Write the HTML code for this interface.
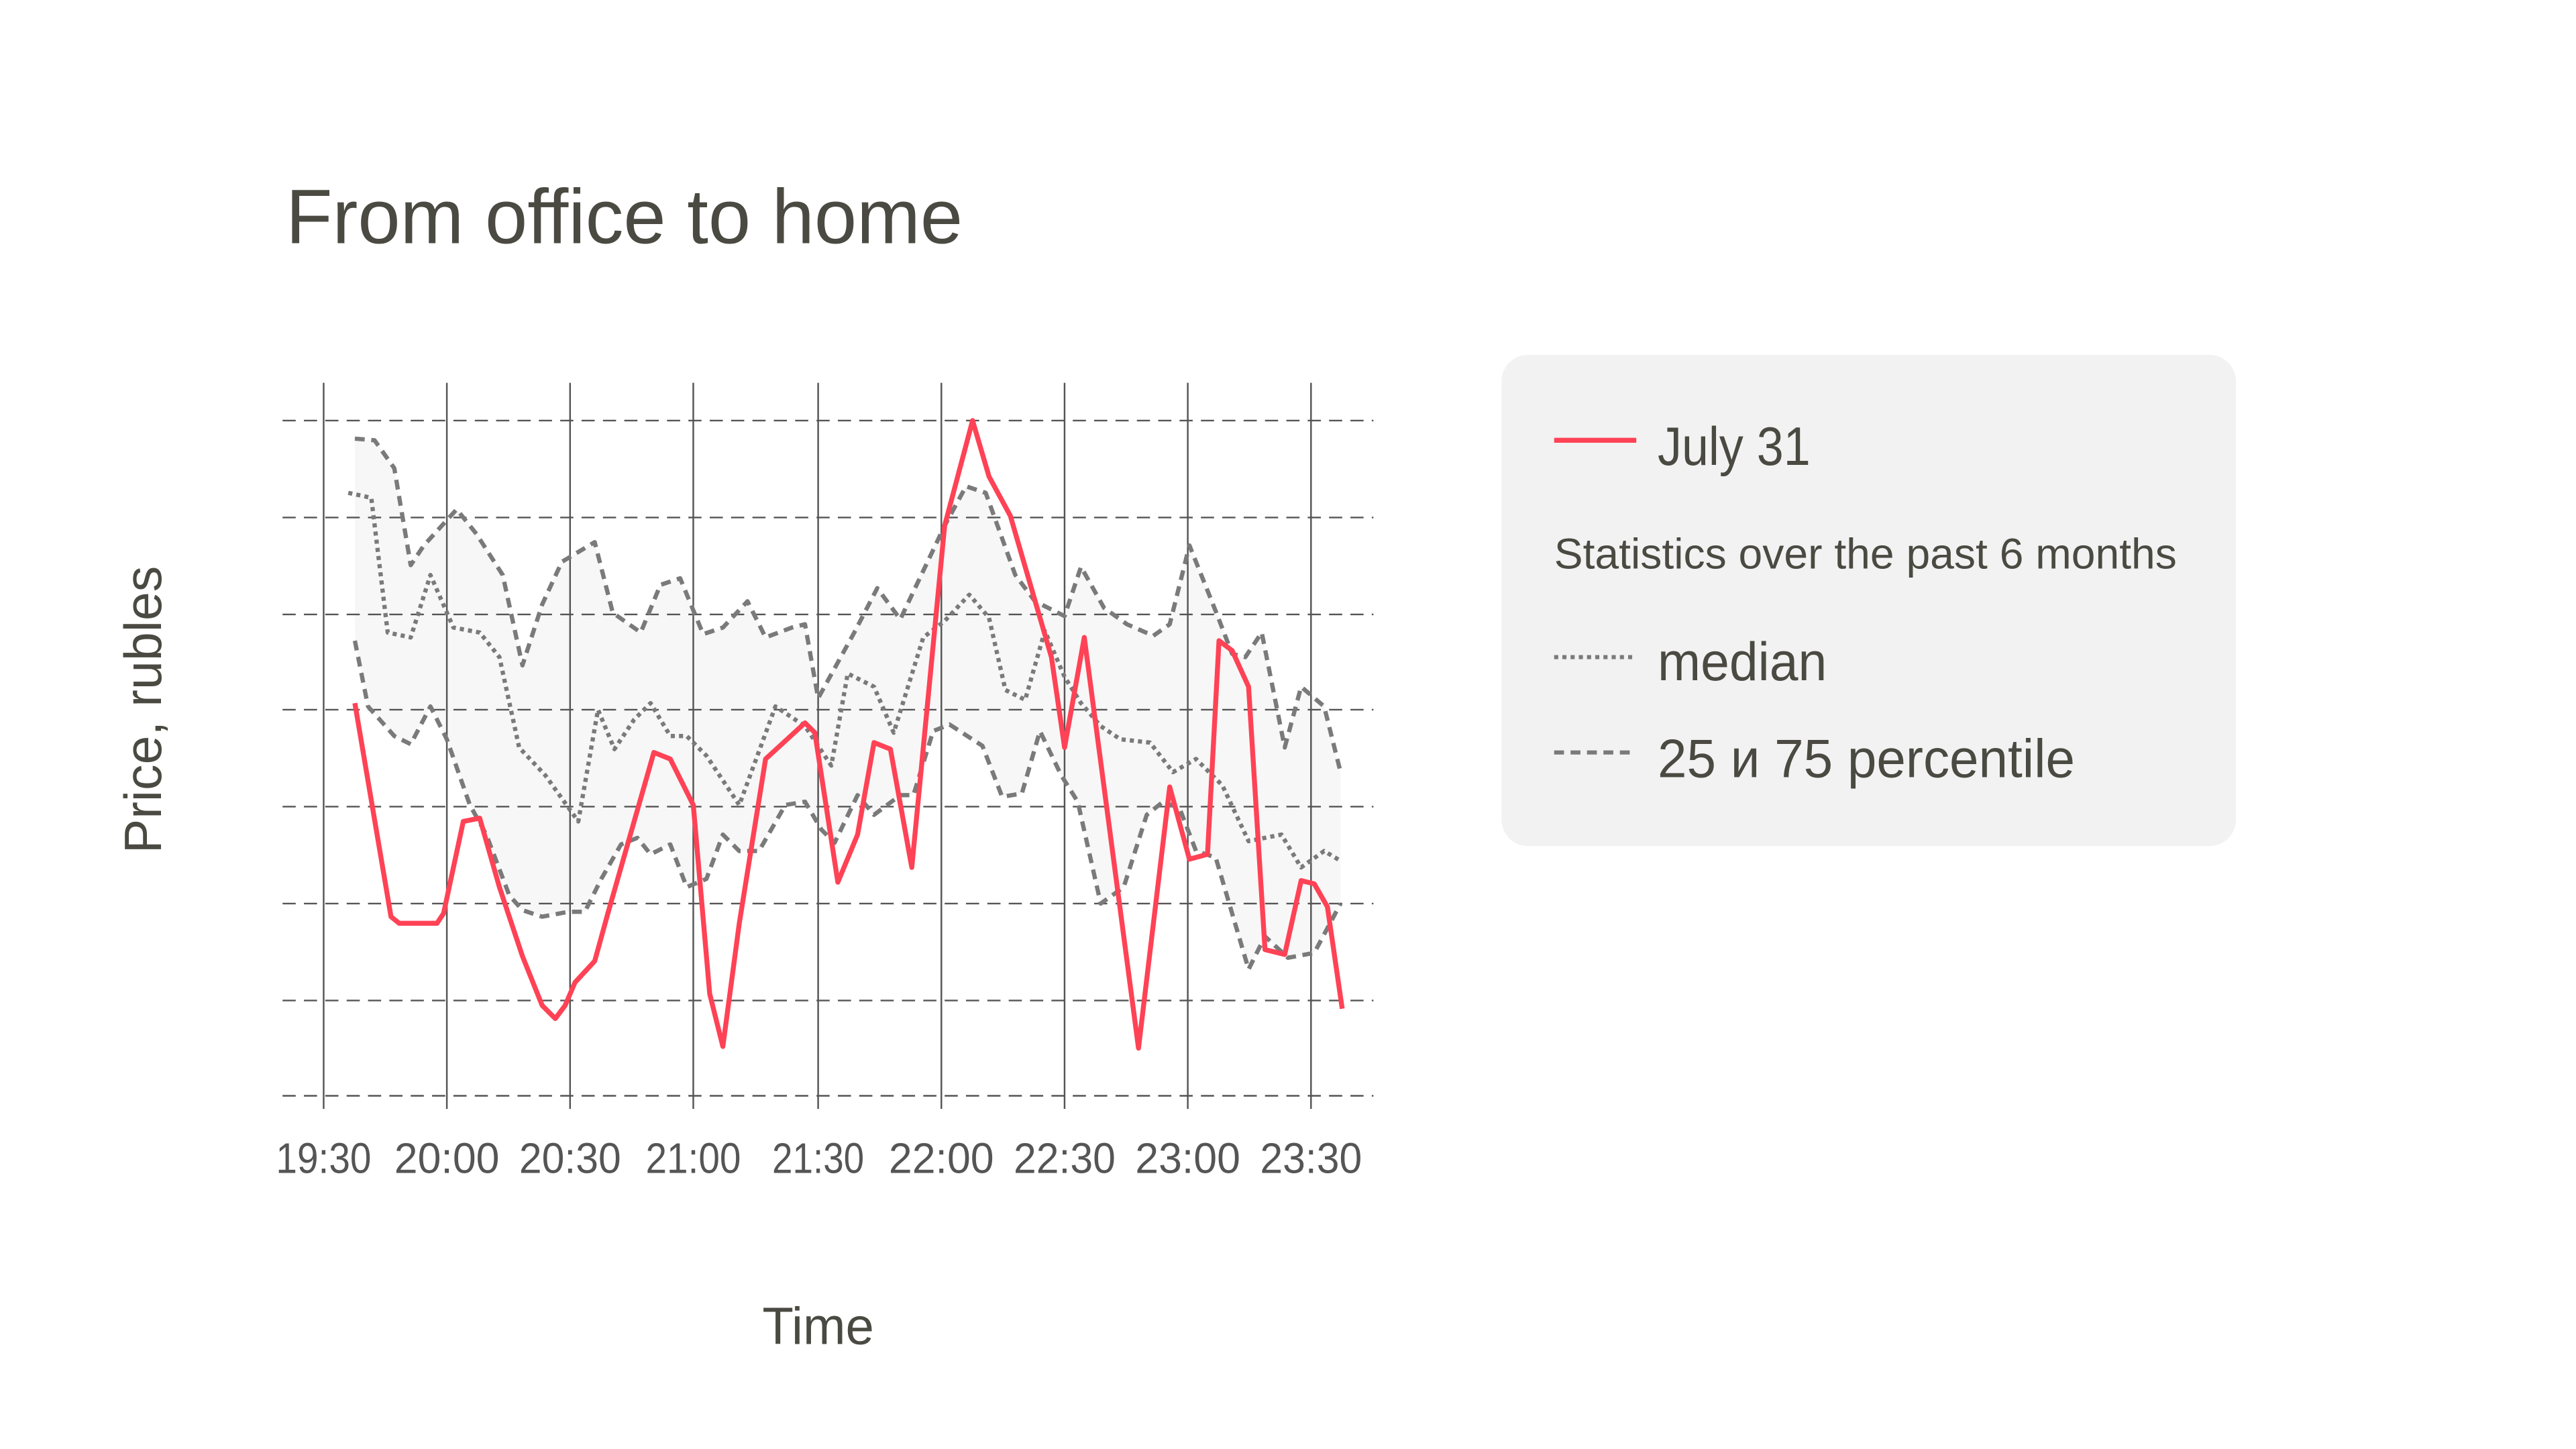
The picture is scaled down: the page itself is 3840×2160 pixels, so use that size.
<!DOCTYPE html>
<html><head><meta charset="utf-8"><style>html,body{margin:0;padding:0;background:#fff;}svg{display:block}</style></head><body>
<svg width="3840" height="2160" viewBox="0 0 1568 882" xmlns="http://www.w3.org/2000/svg" font-family="'Liberation Sans Narrow','Liberation Sans',sans-serif">
<rect width="1568" height="882" fill="#fff"/>
<text x="174" y="148" font-size="47" fill="#4a4a42" textLength="412" lengthAdjust="spacingAndGlyphs">From office to home</text>
<polygon fill="#f7f7f7" points="216,267 228,268 240,285 250,344 258,332 278,310 290,325 306,350 318,405 330,368 342,342 362,330 373,373 390,385 402,356 414,352 428,386 440,382 455,366 466,388 482,382 490,380 498,425 520,385 534,358 548,377 575,320 588,296 600,300 618,350 630,366 648,375 658,345 672,370 686,380 702,387 712,380 724,332 740,372 750,398 758,400 768,385 782,455 792,418 806,430 816,470 816,550 808,565 800,580 784,583 770,570 760,590 740,522 728,518 718,492 708,488 698,496 684,540 670,550 656,488 646,472 633,445 622,483 610,485 598,454 578,441 568,445 556,484 548,484 532,496 522,484 508,513 500,505 490,488 478,490 462,518 450,518 440,508 430,535 418,540 408,514 396,520 388,510 378,514 366,535 356,555 346,555 330,558 318,554 310,545 296,508 286,490 272,450 262,430 250,453 240,448 224,430 216,390"/>
<g stroke="#555" stroke-width="1">
<line x1="197" y1="233" x2="197" y2="675"/><line x1="272" y1="233" x2="272" y2="675"/><line x1="347" y1="233" x2="347" y2="675"/><line x1="422" y1="233" x2="422" y2="675"/><line x1="498" y1="233" x2="498" y2="675"/><line x1="573" y1="233" x2="573" y2="675"/><line x1="648" y1="233" x2="648" y2="675"/><line x1="723" y1="233" x2="723" y2="675"/><line x1="798" y1="233" x2="798" y2="675"/>
</g>
<g stroke="#555" stroke-width="1" stroke-dasharray="8,5">
<line x1="172" y1="256" x2="836" y2="256"/><line x1="172" y1="315" x2="836" y2="315"/><line x1="172" y1="374" x2="836" y2="374"/><line x1="172" y1="432" x2="836" y2="432"/><line x1="172" y1="491" x2="836" y2="491"/><line x1="172" y1="550" x2="836" y2="550"/><line x1="172" y1="609" x2="836" y2="609"/><line x1="172" y1="667" x2="836" y2="667"/>
</g>
<g fill="none" stroke="#7a7a7a" stroke-width="2.6" stroke-linejoin="round">
<polyline stroke-dasharray="6,4" points="216,267 228,268 240,285 250,344 258,332 278,310 290,325 306,350 318,405 330,368 342,342 362,330 373,373 390,385 402,356 414,352 428,386 440,382 455,366 466,388 482,382 490,380 498,425 520,385 534,358 548,377 575,320 588,296 600,300 618,350 630,366 648,375 658,345 672,370 686,380 702,387 712,380 724,332 740,372 750,398 758,400 768,385 782,455 792,418 806,430 816,470"/>
<polyline stroke-dasharray="6,4" points="216,390 224,430 240,448 250,453 262,430 272,450 286,490 296,508 310,545 318,554 330,558 346,555 356,555 366,535 378,514 388,510 396,520 408,514 418,540 430,535 440,508 450,518 462,518 478,490 490,488 500,505 508,513 522,484 532,496 548,484 556,484 568,445 578,441 598,454 610,485 622,483 633,445 646,472 656,488 670,550 684,540 698,496 708,488 718,492 728,518 740,522 760,590 770,570 784,583 800,580 808,565 816,550"/>
<polyline stroke-dasharray="2.5,2.5" points="212,300 226,303 236,385 250,388 262,350 276,382 292,385 304,400 316,455 332,472 352,500 364,432 374,456 386,438 396,428 408,448 418,448 430,460 450,490 472,430 490,442 506,466 516,410 532,418 544,446 562,388 575,378 590,362 602,376 612,420 624,426 636,384 648,412 658,428 670,442 682,450 700,452 714,470 728,462 744,478 760,512 780,508 792,528 806,518 816,524"/>
</g>
<polyline fill="none" stroke="#ff4255" stroke-width="3" stroke-linejoin="round" points="216,428 238,558 243,562 266,562 270,556 282,500 292,498 304,540 318,582 330,612 338,620 344,612 350,598 362,585 370,556 390,486 398,458 408,462 422,490 432,605 440,637 450,562 466,462 490,440 496,446 510,537 522,508 532,452 542,456 555,528 575,320 592,256 602,290 615,314 640,400 648,455 660,388 693,638 712,479 724,523 735,520 742,390 750,396 760,418 770,578 782,581 792,536 800,538 808,552 817,614"/>
<g font-size="26" fill="#555" text-anchor="middle">
<text x="197" y="714" textLength="58" lengthAdjust="spacingAndGlyphs">19:30</text><text x="272" y="714" textLength="64" lengthAdjust="spacingAndGlyphs">20:00</text><text x="347" y="714" textLength="62" lengthAdjust="spacingAndGlyphs">20:30</text><text x="422" y="714" textLength="58" lengthAdjust="spacingAndGlyphs">21:00</text><text x="498" y="714" textLength="56" lengthAdjust="spacingAndGlyphs">21:30</text><text x="573" y="714" textLength="64" lengthAdjust="spacingAndGlyphs">22:00</text><text x="648" y="714" textLength="62" lengthAdjust="spacingAndGlyphs">22:30</text><text x="723" y="714" textLength="64" lengthAdjust="spacingAndGlyphs">23:00</text><text x="798" y="714" textLength="62" lengthAdjust="spacingAndGlyphs">23:30</text>
</g>
<text x="498" y="818" font-size="32" fill="#4a4a42" text-anchor="middle" textLength="68" lengthAdjust="spacingAndGlyphs">Time</text>
<text transform="translate(98,432) rotate(-90)" font-size="32" fill="#4a4a42" text-anchor="middle" textLength="175" lengthAdjust="spacingAndGlyphs">Price, rubles</text>
<rect x="914" y="216" width="447" height="299" rx="16" fill="#f2f2f2"/>
<line x1="946" y1="268" x2="996" y2="268" stroke="#ff4255" stroke-width="3"/>
<text x="1009" y="283" font-size="33" fill="#4a4a42" textLength="93" lengthAdjust="spacingAndGlyphs">July 31</text>
<text x="946" y="346" font-size="26" fill="#4a4a42" textLength="379" lengthAdjust="spacingAndGlyphs">Statistics over the past 6 months</text>
<line x1="946" y1="400" x2="996" y2="400" stroke="#7a7a7a" stroke-width="2.5" stroke-dasharray="2.5,2.5"/>
<text x="1009" y="414" font-size="33" fill="#4a4a42" textLength="103" lengthAdjust="spacingAndGlyphs">median</text>
<line x1="946" y1="458" x2="996" y2="458" stroke="#7a7a7a" stroke-width="2.5" stroke-dasharray="6,4"/>
<text x="1009" y="473" font-size="33" fill="#4a4a42" textLength="254" lengthAdjust="spacingAndGlyphs">25 и 75 percentile</text>
</svg>
</body></html>
